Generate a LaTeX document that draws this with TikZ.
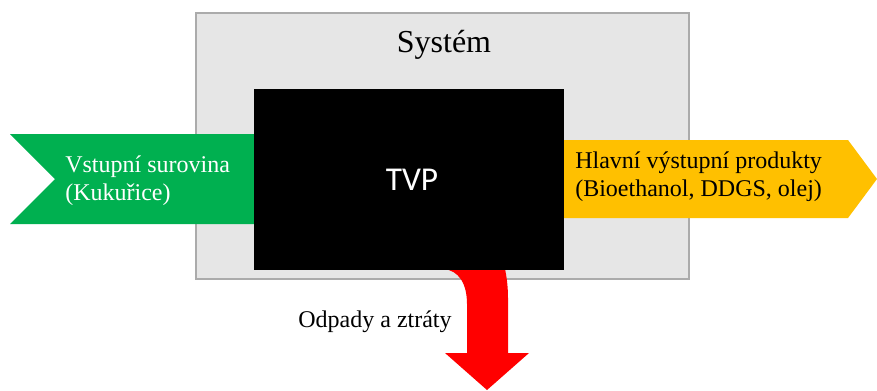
\documentclass[tikz,border=0pt]{standalone}
\usepackage{fontspec}
\setmainfont{Liberation Serif}
\newfontfamily\tvpfont{Carlito}
\definecolor{sysgray}{HTML}{E6E6E6}
\definecolor{sysline}{HTML}{ABABAB}
\definecolor{inputgreen}{HTML}{00B050}
\definecolor{outyellow}{HTML}{FFC000}
\tikzset{
  flowtext/.style={inner sep=0pt, align=left, font=\fontsize{18}{21}\selectfont},
}
\begin{document}
\begin{tikzpicture}[x=0.75pt,y=-0.75pt]
\useasboundingbox (0,0) rectangle (877,390);
% system box
\node[draw=sysline, fill=sysgray, line width=0.8pt, minimum width=493*0.75pt, minimum height=266*0.75pt, inner sep=0pt] (sys) at (442.5,146) {};
\node[font=\fontsize{24}{28}\selectfont] (systitle) at (444,45) {Systém};
% input (green)
\fill[inputgreen] (10,134) -- (254,134) -- (254,224) -- (10,224) -- (55,179) -- cycle;
\node[flowtext, text=white, anchor=west] (vstup) at (65,181) {Vstupní surovina\\(Kukuřice)};
% output (yellow)
\fill[outyellow] (563,140) -- (848,140) -- (877,179) -- (848,218) -- (563,218) -- cycle;
\node[flowtext, anchor=west] (vystup) at (575,176.5) {Hlavní výstupní produkty\\(Bioethanol, DDGS, olej)};
% waste (red bent arrow)
\fill[red] (443,260) -- (443,269) .. controls (459,270) and (467,284) .. (467,304) -- (467,353) -- (445,353) -- (487,390) -- (529,353) -- (508,353) -- (508,298) .. controls (508,284) and (506,272) .. (503,260) -- cycle;
\node[flowtext] (odpad) at (375,322) {Odpady a ztráty};
% process box
\node[fill=black, minimum width=310*0.75pt, minimum height=181*0.75pt, inner sep=0pt] (tvp) at (408.5,179) {};
\node[text=white, font=\tvpfont\fontsize{25}{30}\selectfont] (tvplabel) at (412,180) {TVP};
\end{tikzpicture}
\end{document}
